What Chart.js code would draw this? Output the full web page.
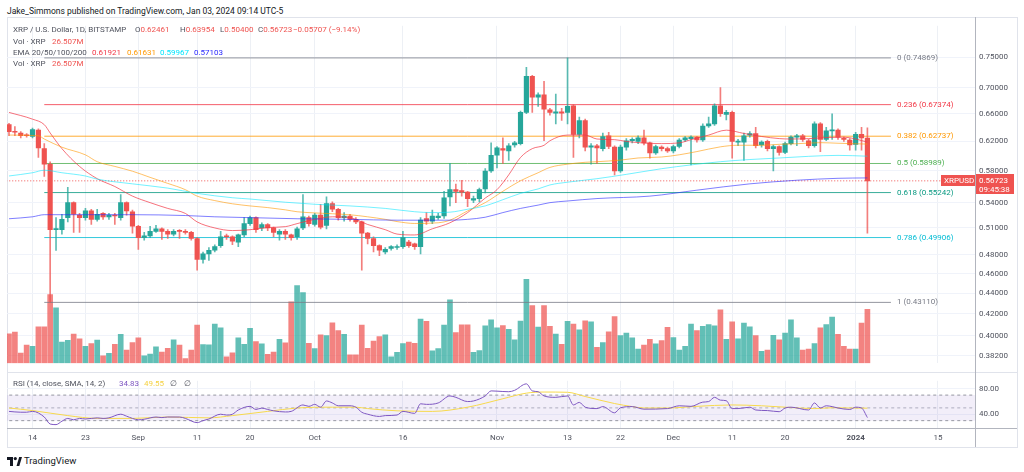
<!DOCTYPE html>
<html>
<head>
<meta charset="utf-8">
<script src="https://cdn.jsdelivr.net/npm/chart.js@4.4.1/dist/chart.umd.min.js"></script>
<style>
  body { margin:0; width:1024px; height:472px; background:#fff; overflow:hidden; position:relative;
         font-family: Roboto, "Liberation Sans", sans-serif; color:#131722; }
  .abs { position:absolute; white-space:nowrap; line-height:10px; }
  #title { left:7px; top:6px; font-size:8.5px; color:#131722; }
  .lg { font-size:8px; color:#50535e; }
  .red { color:#ef5350; }
  canvas { position:absolute; left:0; }
  #main { top:17px; }
  #rsi { top:372px; }
  .line { position:absolute; }
</style>
</head>
<body>
<div id="title" class="abs">Jake_Simmons published on TradingView.com, Jan 03, 2024 09:14 UTC-5</div>

<div class="line" style="left:7px;top:17px;width:1009px;height:429px;border:1px solid #e0e3eb;"></div>

<canvas id="main" width="1017" height="355"></canvas>
<canvas id="rsi" width="1017" height="75"></canvas>

<div class="line" style="left:7px;top:372px;width:1010px;height:1px;background:#e0e3eb;"></div>
<div class="line" style="left:7px;top:428px;width:1010px;height:1px;background:#b2b5be;"></div>
<div class="line" style="left:975px;top:17px;width:1px;height:430px;background:#b2b5be;"></div>

<div class="abs lg" style="left:13px;top:25px;">XRP / U.S. Dollar, 1D, BITSTAMP</div>
<div class="abs lg" style="left:135px;top:25px;">O<span class="red">0.62461</span></div>
<div class="abs lg" style="left:180px;top:25px;">H<span class="red">0.63954</span></div>
<div class="abs lg" style="left:220px;top:25px;">L<span class="red">0.50400</span></div>
<div class="abs lg" style="left:258px;top:25px;">C<span class="red">0.56723</span></div>
<div class="abs lg red" style="left:293px;top:25px;">−0.05707 (−9.14%)</div>
<div class="abs lg" style="left:13px;top:37px;">Vol · XRP</div>
<div class="abs lg red" style="left:52px;top:37px;">26.507M</div>
<div class="abs lg" style="left:13px;top:48px;">EMA 20/50/100/200</div>
<div class="abs lg" style="left:92px;top:48px;color:#f23645;">0.61921</div>
<div class="abs lg" style="left:127px;top:48px;color:#ff9800;">0.61631</div>
<div class="abs lg" style="left:160px;top:48px;color:#00e5ff;">0.59967</div>
<div class="abs lg" style="left:194px;top:48px;color:#2929ff;">0.57103</div>
<div class="abs lg" style="left:13px;top:59px;">Vol · XRP</div>
<div class="abs lg red" style="left:52px;top:59px;">26.507M</div>

<div class="abs lg" style="left:13px;top:379px;">RSI (14, close, SMA, 14, 2)</div>
<div class="abs lg" style="left:119px;top:379px;color:#7e57c2;">34.83</div>
<div class="abs lg" style="left:144px;top:379px;color:#f5d142;">49.55</div>
<div class="abs lg" style="left:170px;top:379px;">∅</div>
<div class="abs lg" style="left:184px;top:379px;">∅</div>

<svg class="abs" style="left:7px;top:457px;" width="15" height="9" viewBox="0 0 15 9">
  <path d="M0 0H6V9H3V3H0Z" fill="#131722"/>
  <circle cx="8.3" cy="1.6" r="1.6" fill="#131722"/>
  <path d="M9.5 9L12.2 0H15L12.3 9Z" fill="#131722"/>
</svg>
<div class="abs" style="left:24px;top:456px;font-size:9.5px;color:#131722;">TradingView</div>

<script>
// daily candles, Aug 10 2023 .. Jan 03 2024 (index 0 = Aug 10)
const opens = [
  0.644,0.634,0.632,0.629,0.627,0.636,0.610,0.589,0.508,0.508,
  0.522,0.540,0.525,0.522,0.530,0.520,0.527,0.523,0.525,0.522,
  0.540,0.529,0.512,0.499,0.501,0.506,0.509,0.506,0.503,0.507,
  0.506,0.505,0.498,0.475,0.481,0.485,0.490,0.501,0.500,0.494,
  0.502,0.515,0.522,0.510,0.514,0.510,0.503,0.506,0.502,0.500,
  0.510,0.522,0.514,0.525,0.513,0.539,0.532,0.522,0.524,0.520,
  0.517,0.504,0.498,0.490,0.483,0.487,0.488,0.489,0.494,0.492,
  0.489,0.521,0.518,0.522,0.524,0.547,0.556,0.555,0.553,0.543,
  0.545,0.557,0.580,0.601,0.610,0.607,0.615,0.617,0.662,0.718,
  0.685,0.689,0.666,0.661,0.663,0.662,0.672,0.630,0.650,0.612,
  0.614,0.610,0.628,0.612,0.580,0.612,0.621,0.620,0.625,0.618,
  0.604,0.612,0.610,0.607,0.613,0.622,0.624,0.626,0.622,0.642,
  0.645,0.672,0.659,0.662,0.619,0.619,0.629,0.631,0.615,0.620,
  0.610,0.613,0.605,0.617,0.626,0.628,0.621,0.614,0.645,0.623,
  0.635,0.636,0.624,0.622,0.616,0.630,0.62461
];
const highs = [
  0.646,0.641,0.634,0.631,0.639,0.638,0.617,0.592,0.522,0.526,
  0.559,0.541,0.527,0.533,0.532,0.532,0.528,0.527,0.527,0.550,
  0.541,0.531,0.513,0.505,0.512,0.513,0.510,0.508,0.508,0.508,
  0.508,0.506,0.499,0.483,0.488,0.491,0.506,0.503,0.501,0.503,
  0.522,0.524,0.523,0.516,0.515,0.511,0.508,0.508,0.503,0.511,
  0.550,0.524,0.527,0.538,0.547,0.541,0.533,0.528,0.526,0.522,
  0.518,0.505,0.500,0.491,0.488,0.490,0.491,0.506,0.496,0.493,
  0.522,0.528,0.531,0.527,0.554,0.590,0.563,0.568,0.554,0.548,
  0.558,0.583,0.618,0.613,0.625,0.617,0.620,0.664,0.733,0.720,
  0.692,0.710,0.668,0.690,0.668,0.7487,0.674,0.655,0.652,0.617,
  0.616,0.632,0.633,0.614,0.615,0.624,0.625,0.628,0.636,0.619,
  0.615,0.614,0.612,0.615,0.624,0.627,0.628,0.627,0.645,0.655,
  0.675,0.700,0.665,0.664,0.623,0.632,0.634,0.640,0.621,0.622,
  0.615,0.614,0.619,0.628,0.630,0.630,0.623,0.648,0.647,0.640,
  0.660,0.638,0.626,0.624,0.633,0.640,0.63954
];
const lows = [
  0.628,0.628,0.625,0.626,0.625,0.598,0.573,0.4311,0.4848,0.503,
  0.517,0.505,0.505,0.519,0.514,0.518,0.520,0.520,0.514,0.519,
  0.525,0.504,0.486,0.496,0.499,0.505,0.497,0.498,0.501,0.498,
  0.503,0.496,0.4636,0.471,0.474,0.483,0.488,0.497,0.491,0.489,
  0.500,0.513,0.505,0.507,0.507,0.500,0.496,0.497,0.496,0.497,
  0.508,0.512,0.512,0.509,0.509,0.529,0.519,0.518,0.518,0.515,
  0.4636,0.492,0.483,0.479,0.481,0.485,0.486,0.487,0.488,0.486,
  0.481,0.514,0.515,0.520,0.521,0.536,0.540,0.548,0.535,0.540,
  0.541,0.552,0.578,0.584,0.590,0.594,0.612,0.615,0.660,0.662,
  0.671,0.621,0.658,0.645,0.650,0.645,0.598,0.625,0.607,0.589,
  0.590,0.607,0.610,0.575,0.578,0.608,0.618,0.617,0.615,0.597,
  0.602,0.607,0.605,0.604,0.611,0.620,0.588,0.619,0.620,0.640,
  0.643,0.656,0.651,0.597,0.614,0.594,0.626,0.611,0.612,0.607,
  0.580,0.601,0.603,0.615,0.614,0.620,0.611,0.612,0.606,0.621,
  0.623,0.623,0.620,0.608,0.608,0.608,0.504
];
const closes = [
  0.634,0.633,0.628,0.628,0.637,0.611,0.589,0.508,0.509,0.520,
  0.540,0.526,0.522,0.530,0.520,0.526,0.523,0.525,0.524,0.540,
  0.530,0.512,0.499,0.501,0.506,0.509,0.506,0.503,0.506,0.506,
  0.505,0.498,0.475,0.481,0.485,0.489,0.500,0.500,0.495,0.502,
  0.515,0.522,0.508,0.514,0.510,0.505,0.506,0.503,0.499,0.509,
  0.523,0.515,0.525,0.511,0.539,0.532,0.522,0.524,0.520,0.517,
  0.504,0.498,0.490,0.485,0.486,0.489,0.489,0.499,0.490,0.489,
  0.519,0.518,0.524,0.524,0.546,0.556,0.554,0.553,0.545,0.545,
  0.556,0.580,0.601,0.611,0.608,0.614,0.618,0.662,0.718,0.685,
  0.689,0.667,0.662,0.663,0.661,0.671,0.630,0.650,0.612,0.614,
  0.611,0.627,0.613,0.580,0.612,0.621,0.623,0.625,0.618,0.604,
  0.613,0.610,0.607,0.613,0.622,0.625,0.626,0.622,0.642,0.645,
  0.672,0.660,0.662,0.620,0.620,0.628,0.631,0.614,0.619,0.610,
  0.613,0.605,0.617,0.626,0.628,0.623,0.614,0.645,0.623,0.635,
  0.636,0.626,0.623,0.615,0.630,0.625,0.56723
];
// volume, millions XRP
const volumes = [
  14.5,15.3,5.0,8.9,8.3,17.9,17.9,33.8,27.3,10.4,
  11.2,14.3,12.0,8.3,9.7,11.4,3.6,4.8,9.3,14.2,
  6.5,10.1,12.5,3.6,4.5,8.1,5.5,7.3,11.5,8.9,
  2.3,6.5,18.7,9.2,9.0,19.3,17.4,3.1,5.1,12.5,
  9.3,17.1,10.6,9.5,4.4,5.5,11.8,10.0,30.2,38.2,
  34.7,9.8,7.2,13.9,13.6,19.9,16.0,14.2,4.1,4.1,
  18.7,7.3,10.9,13.1,13.9,3.1,5.3,9.7,10.4,9.8,
  21.7,20.6,6.1,7.2,18.7,31.2,15.1,18.9,18.9,5.3,
  6.2,18.4,21.3,17.4,18.5,16.7,11.5,20.7,41.3,28.4,
  17.8,28.4,18.1,14.3,9.3,20.6,19.2,16.4,20.9,20.3,
  7.8,10.1,15.4,22.9,13.6,14.8,12.5,6.9,8.9,11.7,
  9.5,11.1,17.6,12.6,6.5,8.3,19.3,16.0,18.2,19.0,
  18.4,26.2,11.7,20.3,12.0,19.8,17.9,13.6,5.8,6.5,
  13.7,11.5,14.8,21.3,12.5,6.5,6.9,9.7,17.4,19.0,
  22.7,14.2,8.3,7.0,7.0,19.8,26.5
];

// EMA readings [day index, value]
const ema20 = [[0,0.662],[4,0.652],[6,0.644],[7,0.632],[9,0.610],[12,0.586],[15,0.570],[18,0.560],[21,0.548],[24,0.540],[27,0.533],[30,0.527],[32,0.517],[35,0.510],[38,0.507],[41,0.508],[44,0.5105],[47,0.5115],[49,0.515],[52,0.520],[55,0.523],[58,0.522],[61,0.514],[64,0.508],[66,0.503],[69,0.502],[72,0.509],[75,0.516],[78,0.528],[81,0.5456],[83,0.556],[85,0.575],[87,0.598],[89,0.610],[91,0.6146],[92,0.621],[95,0.629],[98,0.629],[100,0.6234],[103,0.6225],[105,0.620],[108,0.6178],[111,0.617],[114,0.618],[116,0.6225],[119,0.629],[122,0.636],[125,0.6313],[128,0.627],[131,0.624],[133,0.6234],[136,0.624],[139,0.6255],[142,0.626],[146,0.6192]];
const ema50 = [[0,0.629],[5,0.628],[6,0.6234],[9,0.612],[13,0.6015],[15,0.5923],[18,0.586],[21,0.5797],[24,0.5717],[27,0.564],[30,0.556],[32,0.548],[35,0.5425],[38,0.5386],[41,0.536],[44,0.534],[47,0.5313],[49,0.529],[52,0.5276],[55,0.5266],[58,0.5254],[61,0.523],[64,0.520],[66,0.5174],[69,0.5152],[73,0.516],[75,0.519],[78,0.530],[81,0.540],[84,0.554],[87,0.5674],[90,0.5777],[92,0.5847],[95,0.589],[98,0.5915],[100,0.5923],[104,0.5944],[107,0.5973],[111,0.5986],[114,0.6016],[117,0.606],[121,0.6125],[124,0.6147],[128,0.6147],[131,0.616],[134,0.6168],[138,0.6183],[141,0.6175],[146,0.6163]];
const ema100 = [[0,0.5735],[4,0.5777],[6,0.581],[9,0.5777],[13,0.5735],[15,0.5694],[21,0.5634],[27,0.558],[32,0.5514],[38,0.546],[41,0.5444],[47,0.5405],[52,0.538],[58,0.536],[64,0.533],[69,0.529],[72,0.528],[75,0.5285],[78,0.532],[81,0.536],[84,0.5436],[87,0.5514],[90,0.557],[92,0.562],[95,0.5655],[100,0.570],[105,0.5756],[111,0.583],[116,0.588],[121,0.5923],[126,0.5952],[131,0.5973],[136,0.5995],[141,0.6008],[146,0.5997]];
const ema200 = [[0,0.5207],[4,0.523],[6,0.5255],[13,0.5255],[21,0.5255],[30,0.5245],[35,0.523],[41,0.522],[49,0.5207],[58,0.520],[66,0.519],[75,0.519],[78,0.520],[81,0.5225],[84,0.528],[87,0.533],[90,0.537],[92,0.540],[95,0.542],[100,0.545],[109,0.548],[117,0.5554],[126,0.5634],[134,0.568],[141,0.5705],[146,0.571]];

// RSI readings [day index, value]
const rsi = [[0,44.5],[2,43.2],[3,43.2],[4,44.5],[6,35.7],[7,24.7],[8,23.8],[9,29.1],[10,33.5],[11,31.3],[12,33.5],[13,32.6],[15,34.4],[16,33.5],[17,34.4],[19,40.1],[20,37.0],[21,33.5],[22,31.3],[23,32.2],[25,35.7],[26,34.8],[27,35.7],[29,35.7],[30,33.5],[32,26.9],[33,30.0],[34,32.6],[36,40.1],[37,38.8],[38,40.1],[39,46.7],[41,52.4],[42,47.5],[43,49.7],[44,47.5],[45,45.4],[47,43.6],[48,44.5],[50,54.6],[51,52.4],[52,55.5],[53,51.1],[54,60.8],[55,57.7],[56,53.3],[58,53.3],[59,51.1],[60,43.2],[61,40.1],[63,36.6],[64,37.9],[66,38.8],[67,44.5],[69,41.4],[70,56.4],[71,55.5],[73,57.7],[75,68.7],[76,66.5],[78,59.9],[79,60.8],[81,68.7],[82,76.6],[83,76.2],[85,75.3],[86,77.5],[88,87.6],[89,76.6],[90,75.3],[91,68.7],[93,66.5],[95,68.7],[96,54.6],[97,58.6],[98,51.1],[100,48.9],[101,52.0],[103,42.3],[104,50.2],[106,52.0],[108,48.0],[112,48.9],[114,53.3],[116,52.4],[118,59.0],[119,59.9],[120,66.5],[121,62.1],[122,61.2],[123,48.9],[124,48.9],[126,51.1],[127,46.7],[129,45.8],[131,44.0],[132,49.8],[133,51.1],[136,46.7],[137,57.7],[138,49.8],[139,53.3],[140,52.0],[141,49.8],[143,47.5],[144,51.1],[145,49.8],[146,34.83]];
const rsiSma = [[0,49.8],[4,45.8],[10,37.9],[15,33.5],[21,33.5],[27,35.7],[34,34.4],[38,37.9],[44,44.5],[49,49.8],[55,51.1],[59,51.1],[61,48.9],[66,45.4],[72,44.5],[78,51.1],[84,64.3],[88,73.1],[91,74.8],[95,74.4],[98,67.8],[103,56.8],[106,52.0],[108,49.8],[112,49.8],[117,52.4],[123,54.6],[128,53.3],[132,51.1],[137,48.9],[140,50.2],[143,49.8],[146,49.55]];

// fibonacci retracement
const fibNames = ['0', '0.236', '0.382', '0.5', '0.618', '0.786', '1'];
const fibPrices = [0.74869, 0.67374, 0.62737, 0.58989, 0.55242, 0.49906, 0.43110];
const fibFrom = 6, fibTo = 150;
const lastPrice = 0.56723;

// axis ticks
const tickDays = [4, 13, 22, 32, 41, 52, 67, 83, 95, 104, 113, 123, 132, 144, 158];
const tickLabels = ['14', '23', 'Sep', '11', '20', 'Oct', '16', 'Nov', '13', '22', 'Dec', '11', '20', '2024', '15'];
const priceTicks = [0.75, 0.70, 0.66, 0.62, 0.58, 0.54, 0.51, 0.48, 0.46, 0.44, 0.42, 0.40, 0.382];
const rsiTicks = [80, 40];

const GREEN = '#26a69a', RED = '#ef5350';
const fibColors = ['#787b86', '#f23645', '#ff9800', '#4caf50', '#089981', '#00bcd4', '#787b86'];
const FONT = { family: 'Roboto', size: 8 };
const X_MIN = -0.34, X_MAX = 164.3;

const idx = opens.map((o, i) => i);
const isUp = i => closes[i] >= opens[i];
const pts = arr => arr.map(p => ({ x: p[0], y: p[1] }));

function lineDs(data, color, order, extra) {
  return Object.assign({
    type: 'line', data: data, borderColor: color, borderWidth: 1,
    pointRadius: 0, tension: 0.4, cubicInterpolationMode: 'monotone', order: order
  }, extra || {});
}

var datasets = [];
datasets.push({
  type: 'bar', yAxisID: 'yv', order: 20, grouped: false, barThickness: 5,
  data: idx.map(i => ({ x: i, y: volumes[i] })),
  backgroundColor: idx.map(i => isUp(i) ? 'rgba(38,166,154,0.72)' : 'rgba(239,83,80,0.72)')
});
fibPrices.forEach(function (p, k) {
  datasets.push(lineDs([{ x: fibFrom, y: p }, { x: fibTo, y: p }], fibColors[k] + 'cc', 10, { tension: 0 }));
});
datasets.push(lineDs([{ x: -2, y: lastPrice }, { x: 170, y: lastPrice }], RED, 9, { tension: 0, borderDash: [1, 2] }));
datasets.push({
  type: 'bar', order: 4, grouped: false, barThickness: 1,
  data: idx.map(i => ({ x: i, y: [lows[i], highs[i]] })),
  backgroundColor: idx.map(i => isUp(i) ? 'rgba(38,166,154,0.75)' : 'rgba(239,83,80,0.75)')
});
datasets.push({
  type: 'bar', order: 3, grouped: false, barThickness: 4.5, minBarLength: 1,
  data: idx.map(i => ({ x: i, y: [opens[i], closes[i]] })),
  backgroundColor: idx.map(i => isUp(i) ? GREEN : RED)
});
datasets.push(lineDs(pts(ema200), 'rgba(41,41,255,0.6)', 1));
datasets.push(lineDs(pts(ema100), 'rgba(0,229,255,0.55)', 1));
datasets.push(lineDs(pts(ema50), 'rgba(255,152,0,0.6)', 1));
datasets.push(lineDs(pts(ema20), 'rgba(242,54,69,0.7)', 1));

const overlayText = {
  id: 'overlayText',
  afterDatasetsDraw(chart) {
    const ctx = chart.ctx, y = chart.scales.y, x = chart.scales.x;
    ctx.save();
    ctx.font = '8px Roboto';
    ctx.textBaseline = 'middle';
    fibPrices.forEach(function (p, k) {
      ctx.fillStyle = fibColors[k];
      ctx.fillText(fibNames[k] + ' (' + p.toFixed(5) + ')', x.getPixelForValue(fibTo) + 6, y.getPixelForValue(p));
    });
    const py = Math.round(y.getPixelForValue(lastPrice));
    ctx.fillStyle = RED;
    ctx.fillRect(941, py - 6, 34, 11);
    ctx.fillRect(975, py - 7, 39, 20);
    ctx.fillStyle = '#fff';
    ctx.fillText('XRPUSD', 944, py);
    ctx.fillText(lastPrice.toFixed(5), 979, py);
    ctx.fillText('09:45:38', 979, py + 9);
    ctx.restore();
  }
};

new Chart(document.getElementById('main'), {
  type: 'bar',
  data: { datasets: datasets },
  options: {
    responsive: false, animation: false, devicePixelRatio: 1,
    layout: { padding: { left: 7, right: 0, top: 0, bottom: 0 } },
    plugins: { legend: { display: false }, tooltip: { enabled: false } },
    scales: {
      x: {
        type: 'linear', min: X_MIN, max: X_MAX, offset: false,
        afterBuildTicks: s => { s.ticks = tickDays.map(v => ({ value: v })); },
        afterFit: s => { s.height = 0; },
        ticks: { display: false },
        grid: { color: '#edf0f5', drawTicks: false, offset: false },
        border: { display: false }
      },
      y: {
        type: 'logarithmic', position: 'right', min: 0.37579, max: 0.8050,
        afterBuildTicks: s => { s.ticks = priceTicks.map(v => ({ value: v })); },
        afterFit: s => { s.width = 42; },
        ticks: { font: FONT, color: '#50535e', padding: 4, autoSkip: false, callback: v => v.toFixed(5) },
        grid: { color: '#f0f3fa', drawTicks: false },
        border: { display: false }
      },
      yv: { type: 'linear', display: false, min: 0, max: 166 }
    }
  },
  plugins: [overlayText]
});

new Chart(document.getElementById('rsi'), {
  type: 'line',
  data: {
    datasets: [
      lineDs([{ x: -2, y: 70 }, { x: 170, y: 70 }], '#9598a1', 5, { tension: 0, borderDash: [3, 3] }),
      lineDs([{ x: -2, y: 30 }, { x: 170, y: 30 }], '#9598a1', 5, { tension: 0, borderDash: [3, 3], fill: '-1', backgroundColor: 'rgba(126,87,194,0.1)' }),
      lineDs([{ x: -2, y: 50 }, { x: 170, y: 50 }], '#b2b5be', 5, { tension: 0, borderDash: [3, 3] }),
      lineDs(pts(rsiSma), '#f7d94c', 2, { tension: 0.3 }),
      lineDs(pts(rsi), '#7e57c2', 1, { tension: 0 })
    ]
  },
  options: {
    responsive: false, animation: false, devicePixelRatio: 1,
    layout: { padding: { left: 7, right: 0, top: 0, bottom: 0 } },
    plugins: { legend: { display: false }, tooltip: { enabled: false } },
    scales: {
      x: {
        type: 'linear', min: X_MIN, max: X_MAX, offset: false,
        afterBuildTicks: s => { s.ticks = tickDays.map(v => ({ value: v })); },
        afterFit: s => { s.height = 19; },
        ticks: {
          autoSkip: false, maxRotation: 0, padding: 5, color: '#50535e',
          font: c => ({ family: 'Roboto', size: 8, weight: (c.tick && c.tick.value === 144) ? 'bold' : 'normal' }),
          callback: (v, i) => tickLabels[i]
        },
        grid: { color: '#edf0f5', drawTicks: false },
        border: { display: false }
      },
      y: {
        position: 'right', min: 18.5, max: 92.4,
        afterBuildTicks: s => { s.ticks = rsiTicks.map(v => ({ value: v })); },
        afterFit: s => { s.width = 42; },
        ticks: { font: FONT, color: '#50535e', padding: 4, callback: v => v.toFixed(2) },
        grid: { color: '#f0f3fa', drawTicks: false },
        border: { display: false }
      }
    }
  }
});
</script>
</body>
</html>
